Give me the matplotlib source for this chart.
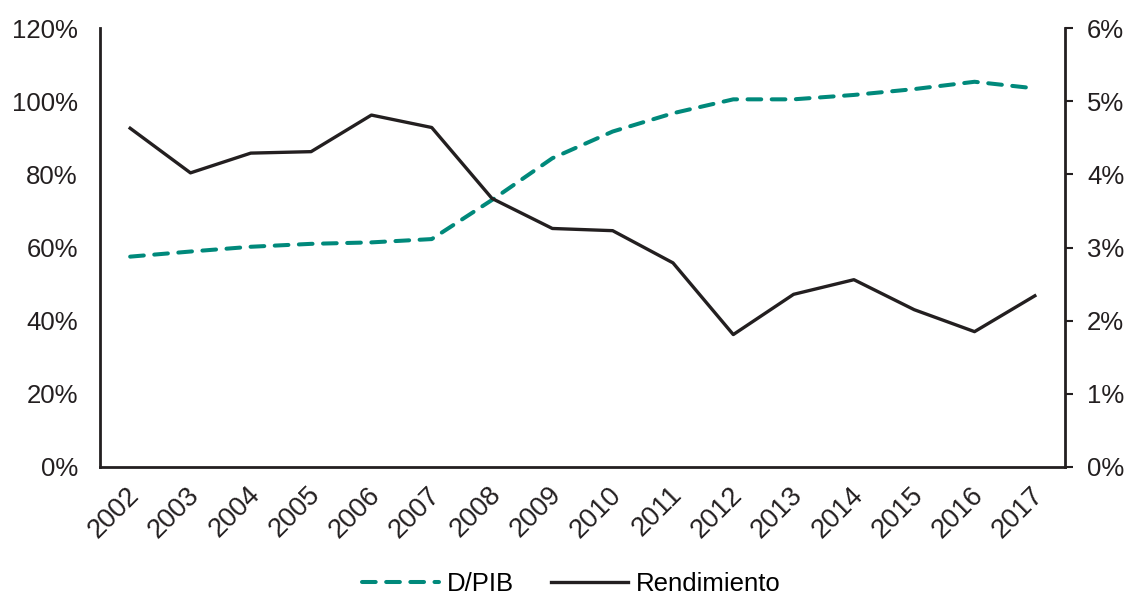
import matplotlib
matplotlib.use("Agg")
import matplotlib.pyplot as plt
from matplotlib.ticker import FuncFormatter
from matplotlib.transforms import ScaledTranslation

plt.rcParams['font.family'] = ['Liberation Sans', 'DejaVu Sans']

years = [str(y) for y in range(2002, 2018)]
deuda_pib = [57.5, 58.9, 60.2, 61.0, 61.4, 62.3, 73.0, 84.4, 91.7, 96.7,
             100.5, 100.5, 101.7, 103.3, 105.3, 103.5]
rendimiento = [4.63, 4.02, 4.29, 4.31, 4.81, 4.64, 3.67, 3.26, 3.23, 2.79,
               1.81, 2.36, 2.56, 2.15, 1.85, 2.34]

teal = '#00897B'
dark = '#231F20'
fs = 18.5

fig = plt.figure(figsize=(11.3, 5.98), dpi=100)
ax = fig.add_axes([100 / 1130, 1 - 467 / 598, 965 / 1130, 439 / 598])
ax2 = ax.twinx()

x = list(range(len(years)))
l1, = ax.plot(x, deuda_pib, color=teal, lw=2.9, dashes=(3.4, 2.6),
              label='D/PIB', dash_capstyle='round')
l2, = ax2.plot(x, rendimiento, color=dark, lw=2.4, label='Rendimiento')

ax.set_xlim(-0.5, len(years) - 0.5)
ax.set_ylim(0, 120)
ax2.set_ylim(0, 6)
ax.set_yticks(range(0, 121, 20))
ax2.set_yticks(range(0, 7, 1))
ax.yaxis.set_major_formatter(FuncFormatter(lambda v, p: f"{v:.0f}%"))
ax2.yaxis.set_major_formatter(FuncFormatter(lambda v, p: f"{v:.0f}%"))

# Category labels: rotated 45 degrees, hanging just below the baseline
ax.set_xticks(x)
ax.set_xticklabels([])
label_trans = ax.get_xaxis_transform() + ScaledTranslation(
    5 / 100, -24 / 100, fig.dpi_scale_trans)
for xi, yr in zip(x, years):
    ax.text(xi, 0, yr, transform=label_trans, rotation=45, ha='right',
            va='center', rotation_mode='anchor', fontsize=19.5, color=dark)

for a in (ax, ax2):
    a.spines['top'].set_visible(False)
    for s in a.spines.values():
        s.set_linewidth(2.0)
        s.set_color(dark)
ax.spines['right'].set_visible(False)
ax2.spines['left'].set_visible(False)
ax2.spines['bottom'].set_visible(False)

ax.tick_params(axis='y', length=0, pad=16, labelsize=fs, labelcolor=dark)
ax.tick_params(axis='x', length=0)
ax2.tick_params(axis='y', length=6, width=1.5, color=dark, pad=10,
                labelsize=fs, labelcolor=dark)

fig.legend([l1, l2], ['D/PIB', 'Rendimiento'], loc='center',
           bbox_to_anchor=(571 / 1130, 1 - 584 / 598), ncol=2, frameon=False,
           fontsize=fs, handlelength=3.0, columnspacing=1.45, handletextpad=0.3)

fig.savefig('out.png', dpi=100, facecolor='white')
